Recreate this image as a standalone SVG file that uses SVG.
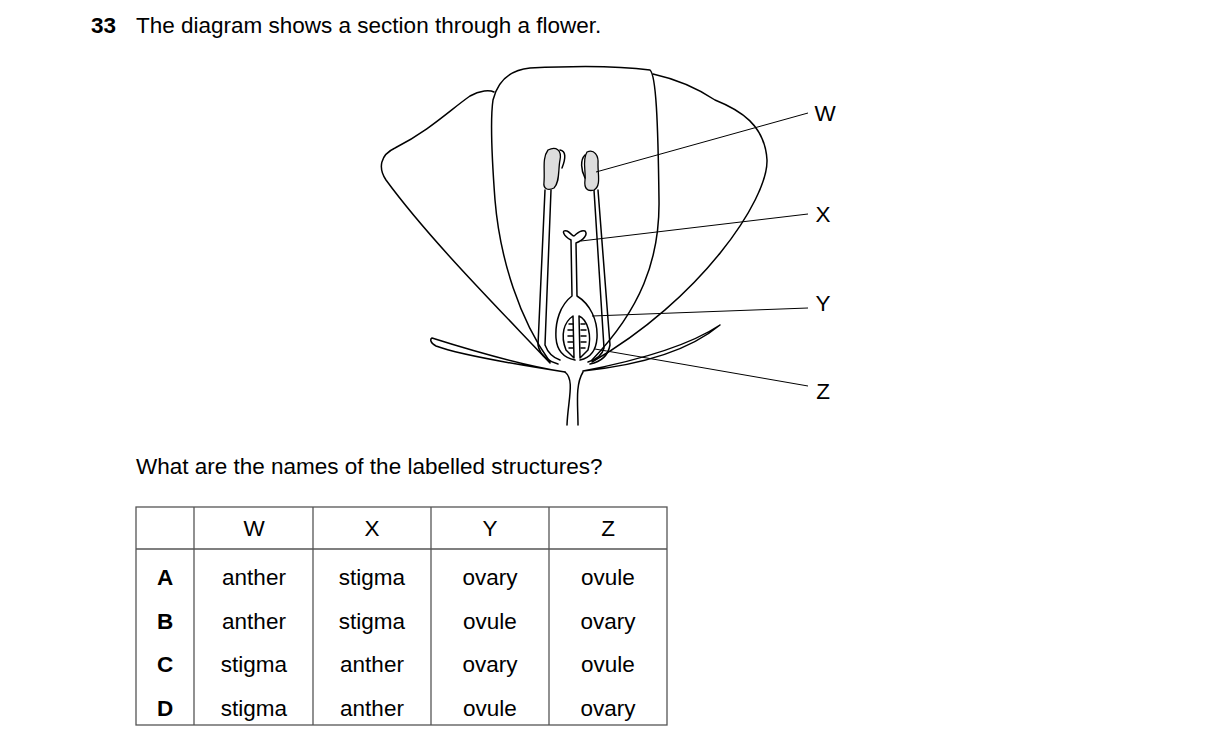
<svg xmlns="http://www.w3.org/2000/svg" width="1216" height="750" viewBox="0 0 1216 750">
<style>
.t{font-family:"Liberation Sans",Arial,sans-serif;font-size:22.5px;fill:#000}
.c{text-anchor:middle}
.b{font-weight:bold}
.ln{fill:none;stroke:#000;stroke-width:1.5;stroke-linecap:round;stroke-linejoin:round}
.th{fill:none;stroke:#000;stroke-width:1}
.tb{fill:none;stroke:#555;stroke-width:1.3}
.dot{fill:#ddd;stroke:#000;stroke-width:1.3}
</style>
<rect width="1216" height="750" fill="#fff"/>
<text class="t b" x="91" y="33">33</text>
<text class="t" x="136" y="33">The diagram shows a section through a flower.</text>
<g id="flower">
<path class="ln" d="M550,363 C500,310 430,240 386,180 C378,168 380,155 395,148 C430,130 450,110 470,96 C480,90 490,90 494,92"/>
<path class="ln" d="M653,74 C680,80 700,90 715,100 C740,110 765,125 767,160 C768,200 700,300 592,362"/>
<path class="ln" d="M550,362 C520,320 500,260 495,200 C492,160 490,120 493,100 C498,80 510,70 530,68 C570,66 620,66 650,70 C656,75 658,120 659,200 C660,260 640,310 592,360"/>
<path class="ln" d="M432,338 C470,350 520,365 565,372 C520,365 460,355 436,346 C430,343 430,339 432,338 Z"/>
<path class="ln" d="M720,325 C690,345 640,360 583,371 C640,365 690,350 720,325 Z"/>
<path class="ln" d="M565,372 C575,380 568,400 567,425"/>
<path class="ln" d="M583,372 C575,385 578,405 578,425"/>
<path class="ln" d="M545,190 L538,345 C540,356 550,362 558,364 M551,190 L545,345 C548,353 554,358 560,360"/>
<path class="ln" d="M594,190 L604,348 C602,356 595,360 588,362 M598,190 L610,345 C608,356 600,362 590,364"/>
<path class="dot" d="M548,150 C556,146 562,150 560,160 C558,170 560,182 554,188 C548,191 543,189 544,182 C545,170 542,158 548,150 Z"/>
<path class="ln" d="M560,150 C566,151 566,158 562,168"/>
<path class="dot" d="M587,152 C594,149 599,155 598,165 C598,175 601,186 594,190 C587,192 584,188 585,180 C586,170 582,160 587,152 Z"/>
<path class="ln" d="M585,155 C580,160 581,170 585,178"/>
<path class="ln" d="M571,240 C563,236 561,229 567,231 C570,232 572,236 574,236 C577,234 580,229 585,231 C588,234 584,240 576,243 L577,296 C590,304 598,320 597,338 C596,352 590,358 580,360 M571,240 L572,296 C560,305 555,322 556,338 C557,352 565,358 575,360"/>
<path class="ln" d="M566,350 C560,335 564,322 573,316 L574,358 Z M579,316 C588,320 592,336 588,350 L580,358 Z"/>
<g class="ln" stroke-width="1">
<path d="M569,324 h4 M568,330 h5 M568,336 h5 M568,342 h5 M569,348 h4 M581,324 h4 M581,330 h5 M581,336 h5 M581,342 h5 M581,348 h4"/>
</g>
</g>
<g id="connectors" class="th">
<line x1="596" y1="172" x2="808" y2="113"/>
<line x1="581" y1="241" x2="808" y2="214"/>
<line x1="592" y1="316" x2="808" y2="308"/>
<line x1="595" y1="349" x2="808" y2="386"/>
</g>
<g id="labels">
<text class="t c" x="825" y="121">W</text>
<text class="t c" x="823" y="222">X</text>
<text class="t c" x="823" y="311">Y</text>
<text class="t c" x="823" y="399">Z</text>
</g>
<text class="t" x="136" y="474">What are the names of the labelled structures?</text>
<g id="table">
<rect class="tb" x="136" y="507" width="531" height="218"/>
<line class="tb" x1="136" y1="549" x2="667" y2="549"/>
<line class="tb" x1="194" y1="507" x2="194" y2="725"/>
<line class="tb" x1="313" y1="507" x2="313" y2="725"/>
<line class="tb" x1="431" y1="507" x2="431" y2="725"/>
<line class="tb" x1="549" y1="507" x2="549" y2="725"/>
<g class="t c">
<text x="254" y="536">W</text><text x="372" y="536">X</text><text x="490" y="536">Y</text><text x="608" y="536">Z</text>
<text class="b" x="165" y="585">A</text><text x="254" y="585">anther</text><text x="372" y="585">stigma</text><text x="490" y="585">ovary</text><text x="608" y="585">ovule</text>
<text class="b" x="165" y="629">B</text><text x="254" y="629">anther</text><text x="372" y="629">stigma</text><text x="490" y="629">ovule</text><text x="608" y="629">ovary</text>
<text class="b" x="165" y="672">C</text><text x="254" y="672">stigma</text><text x="372" y="672">anther</text><text x="490" y="672">ovary</text><text x="608" y="672">ovule</text>
<text class="b" x="165" y="716">D</text><text x="254" y="716">stigma</text><text x="372" y="716">anther</text><text x="490" y="716">ovule</text><text x="608" y="716">ovary</text>
</g>
</g>
</svg>
